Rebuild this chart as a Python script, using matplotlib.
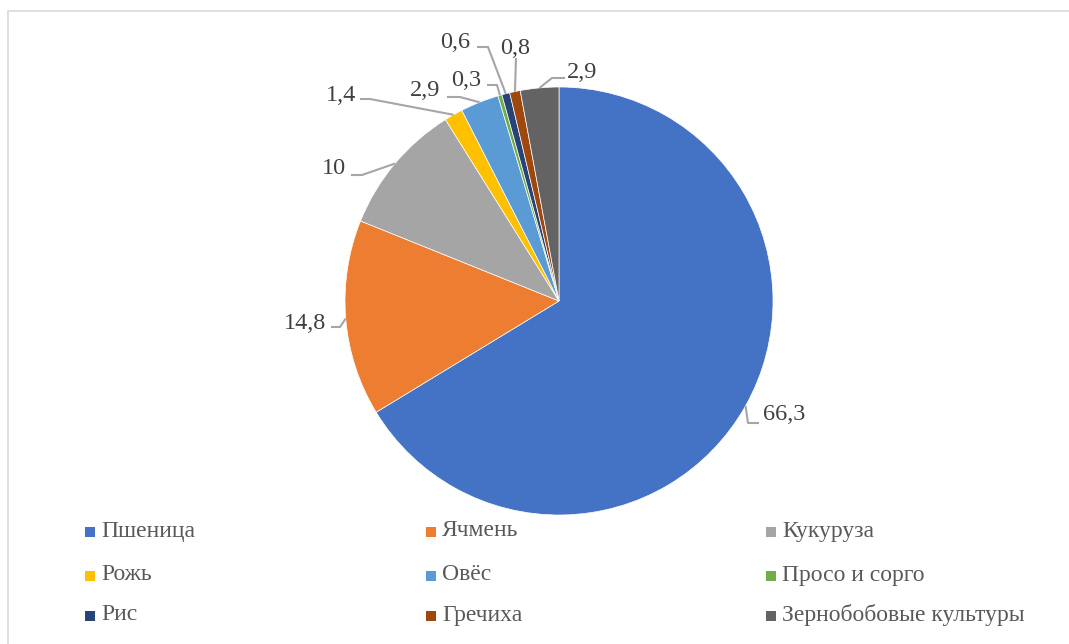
import numpy as np
import matplotlib
matplotlib.use("Agg")
import matplotlib.pyplot as plt
from matplotlib.patches import Rectangle

plt.rcParams['font.family'] = ['Liberation Serif', 'DejaVu Serif']

# ---- data ----
categories = ["Пшеница", "Ячмень", "Кукуруза", "Рожь", "Овёс", "Просо и сорго",
              "Рис", "Гречиха", "Зернобобовые культуры"]
values = [66.3, 14.8, 10, 1.4, 2.9, 0.3, 0.6, 0.8, 2.9]
value_labels = ["66,3", "14,8", "10", "1,4", "2,9", "0,3", "0,6", "0,8", "2,9"]
colors = ["#4472C4", "#ED7D31", "#A5A5A5", "#FFC000", "#5B9BD5", "#70AD47",
          "#264478", "#9E480E", "#636363"]

# ---- layout (pixel coordinates, y from top) ----
W, H = 1069, 644
cx, cy, R = 559, 301, 214
# (text center, line start at text, elbow)
label_layout = [
    ((784, 414), (759, 423), (748, 423)),
    ((305, 323), (331, 327), (340, 327)),
    ((334, 168), (351, 175), (362, 175)),
    ((341, 95), (360, 99), (370, 99)),
    ((425, 90), (447, 97), (460, 97)),
    ((466, 80), (487, 85), (497, 85)),
    ((455, 42), (477, 47), (488, 47)),
    ((515, 48), (516, 58), (516, 58)),
    ((582, 72), (565, 78), (552, 78)),
]

def Y(y):
    return H - y

fig = plt.figure(figsize=(W / 100, H / 100), dpi=100)
ax = fig.add_axes([0, 0, 1, 1])

wedges, _ = ax.pie(values, colors=colors, startangle=90, counterclock=False,
                   center=(cx, Y(cy)), radius=R, frame=True,
                   wedgeprops=dict(edgecolor="white", linewidth=0.5))
ax.set_xlim(0, W)
ax.set_ylim(0, H)
ax.set_aspect('equal')
ax.axis('off')

# border
ax.add_patch(Rectangle((8, Y(700)), 1200, 700 - 11, fill=False,
                       edgecolor="#D9D9D9", linewidth=1.2))

for w, lab, (tc, st, el) in zip(wedges, value_labels, label_layout):
    ang = np.deg2rad((w.theta1 + w.theta2) / 2)
    ex = cx + R * np.cos(ang)
    ey = Y(cy) + R * np.sin(ang)
    xs = [st[0], el[0], ex]
    ys = [Y(st[1]), Y(el[1]), ey]
    ax.plot(xs, ys, color="#A6A6A6", linewidth=1.5, solid_capstyle='butt', zorder=3)
    ax.text(tc[0], Y(tc[1]), lab, ha='center', va='center', fontsize=17.5,
            color="#404040", zorder=4)

# legend (manual, 3 columns)
col_x = [85, 426, 766]
row_y = [532, 576, 616]
for i, (cat, col) in enumerate(zip(categories, colors)):
    x = col_x[i % 3]
    y = row_y[i // 3]
    ax.add_patch(Rectangle((x, Y(y) - 5), 10, 10, facecolor=col, edgecolor='none'))
    ax.text(x + 16, Y(y) + 1, cat, ha='left', va='center', fontsize=17, color="#595959")

fig.savefig("out.png", dpi=100)
